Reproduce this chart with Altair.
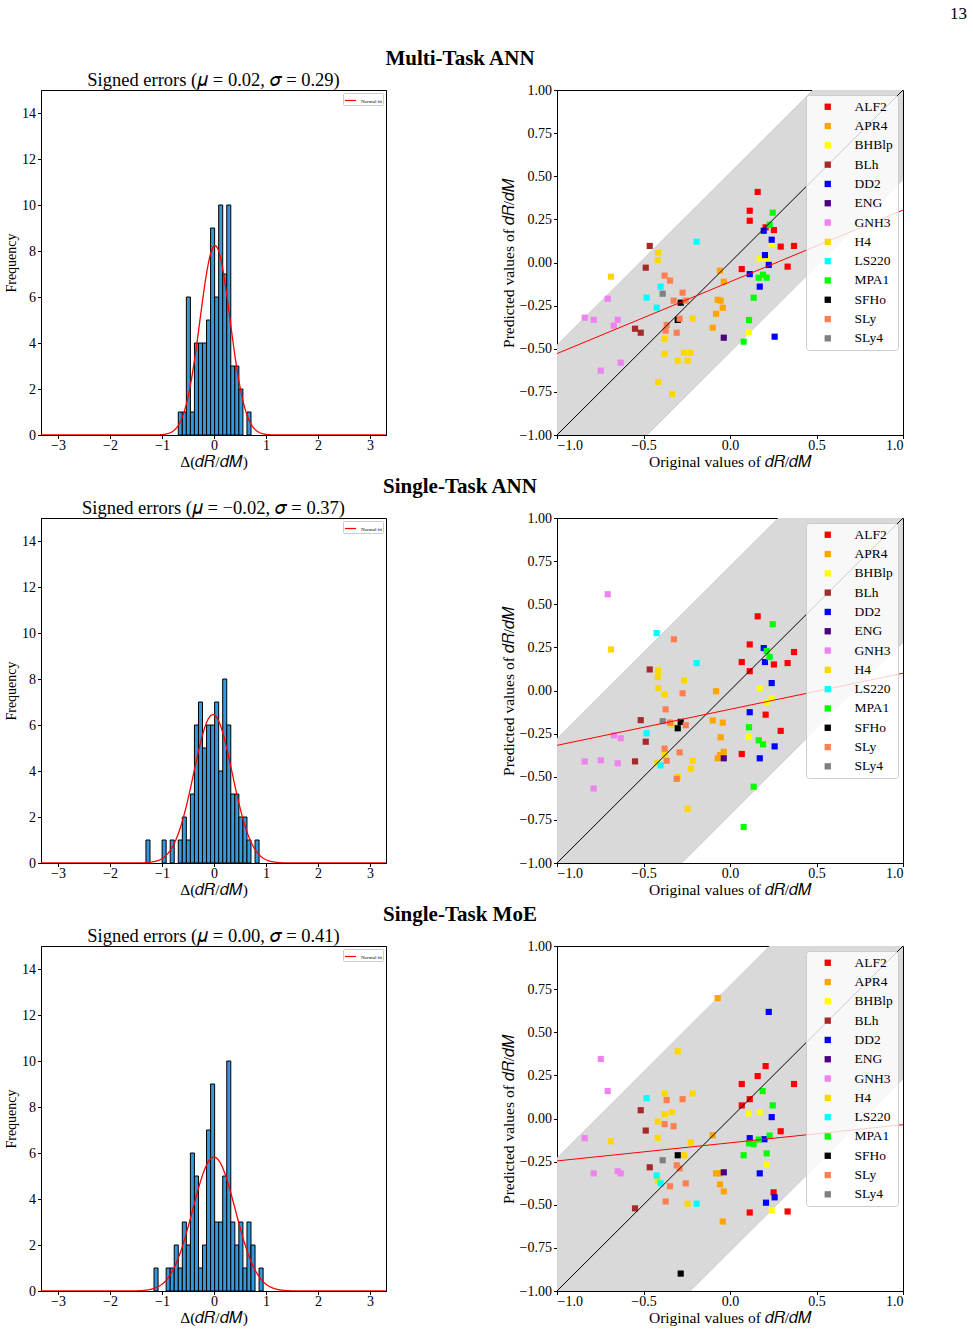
import math
import altair as alt
import pandas as pd

FONT = "Liberation Serif"

EOS = ["ALF2", "APR4", "BHBlp", "BLh", "DD2", "ENG", "GNH3", "H4",
       "LS220", "MPA1", "SFHo", "SLy", "SLy4"]
EOS_COLORS = ["red", "orange", "yellow", "brown", "blue", "indigo", "violet",
              "gold", "cyan", "lime", "black", "coral", "gray"]

# Histogram bins share one grid: edge = BIN_ORIGIN + k * BIN_WIDTH
BIN_WIDTH = 0.0777
BIN_ORIGIN = -0.687

mt_first_bin = 0
mt_counts = [1, 1, 6, 1, 4, 4, 4, 5, 9, 6, 10, 7, 10, 3, 3, 2, 0, 1]
st_first_bin = -8
st_counts = [1, 0, 0, 0, 1, 0, 1, 0, 1, 2, 1, 3, 6, 7, 5, 6, 6, 7, 4, 8,
             6, 3, 3, 2, 2, 1, 0, 1]
moe_first_bin = -6
moe_counts = [1, 0, 0, 1, 1, 2, 1, 3, 2, 6, 5, 1, 2, 7, 9, 3, 3, 5, 10, 3,
              2, 3, 1, 3, 2, 0, 1]

# Normal fit parameters (mu, sigma)
mt_fit = (0.02, 0.29)
st_fit = (-0.02, 0.37)
moe_fit = (0.00, 0.41)

# Linear fit of predicted vs original (slope, intercept) and band half-width
mt_line = (0.416, -0.112)
st_line = (0.209, -0.109)
moe_line = (0.105, -0.141)
mt_band = 0.52
st_band = 0.72
moe_band = 0.77

# (original, predicted) pairs per EoS
mt_points = {
    "ALF2": [(0.160, 0.409), (0.114, 0.300), (0.114, 0.242), (0.206, 0.204), (0.254, 0.188),
             (0.293, 0.092), (0.370, 0.096), (0.068, -0.038), (0.333, -0.024)],
    "APR4": [(-0.058, -0.047), (-0.036, -0.111), (-0.071, -0.216), (-0.054, -0.221),
             (-0.042, -0.262), (-0.081, -0.297), (-0.100, -0.378)],
    "BHBlp": [(0.241, 0.107), (0.172, 0.022), (0.212, 0.022), (0.108, -0.403)],
    "BLh": [(-0.464, 0.096), (-0.487, -0.030), (-0.549, -0.384), (-0.516, -0.407)],
    "DD2": [(0.195, 0.184), (0.241, 0.132), (0.202, 0.043), (0.224, -0.014), (0.114, -0.067),
            (0.172, -0.140), (0.258, -0.430)],
    "ENG": [(-0.036, -0.436)],
    "GNH3": [(-0.707, -0.210), (-0.840, -0.320), (-0.788, -0.332), (-0.649, -0.332),
             (-0.672, -0.366), (-0.632, -0.581), (-0.747, -0.627)],
    "H4": [(-0.688, -0.082), (-0.416, 0.057), (-0.418, 0.014), (-0.378, -0.442), (-0.378, -0.529),
           (-0.216, -0.326), (-0.266, -0.523), (-0.227, -0.523), (-0.302, -0.569),
           (-0.245, -0.569), (-0.416, -0.693), (-0.335, -0.762)],
    "LS220": [(-0.193, 0.121), (-0.401, -0.140), (-0.482, -0.204), (-0.424, -0.262)],
    "MPA1": [(0.247, 0.289), (0.229, 0.219), (0.191, -0.071), (0.166, -0.088), (0.212, -0.088),
             (0.137, -0.204), (0.110, -0.333), (0.079, -0.459)],
    "SFHo": [(-0.285, -0.233), (-0.302, -0.333)],
    "SLy": [(-0.378, -0.076), (-0.347, -0.105), (-0.274, -0.175), (-0.326, -0.221),
            (-0.256, -0.221), (-0.291, -0.326), (-0.366, -0.362), (-0.372, -0.395),
            (-0.308, -0.407)],
    "SLy4": [(-0.389, -0.181)],
}

st_points = {
    "ALF2": [(0.160, 0.430), (0.114, 0.267), (0.370, 0.223), (0.068, 0.165), (0.254, 0.151),
             (0.333, 0.159), (0.114, 0.112), (0.206, -0.140), (0.293, -0.234), (0.068, -0.368)],
    "APR4": [(-0.081, -0.004), (-0.100, -0.174), (-0.042, -0.186), (-0.054, -0.271),
             (-0.036, -0.355), (-0.058, -0.374), (-0.071, -0.393)],
    "BHBlp": [(0.172, 0.014), (0.241, -0.045), (0.212, -0.068), (0.108, -0.267)],
    "BLh": [(-0.464, 0.122), (-0.516, -0.172), (-0.487, -0.297), (-0.549, -0.411)],
    "DD2": [(0.195, 0.246), (0.202, 0.165), (0.241, 0.043), (0.114, -0.126), (0.258, -0.324),
            (0.172, -0.393)],
    "ENG": [(-0.036, -0.393)],
    "GNH3": [(-0.707, 0.558), (-0.671, -0.260), (-0.632, -0.277), (-0.840, -0.411),
             (-0.747, -0.405), (-0.649, -0.422), (-0.788, -0.568)],
    "H4": [(-0.688, 0.238), (-0.416, 0.116), (-0.418, 0.078), (-0.266, 0.058), (-0.414, 0.014),
           (-0.378, -0.023), (-0.337, -0.198), (-0.378, -0.368), (-0.420, -0.419),
           (-0.216, -0.407), (-0.227, -0.453), (-0.302, -0.500), (-0.245, -0.686)],
    "LS220": [(-0.424, 0.333), (-0.193, 0.159), (-0.482, -0.248), (-0.401, -0.434)],
    "MPA1": [(0.247, 0.384), (0.212, 0.229), (0.229, 0.194), (0.110, -0.213), (0.166, -0.289),
             (0.191, -0.312), (0.137, -0.558), (0.079, -0.791)],
    "SFHo": [(-0.285, -0.182), (-0.302, -0.219)],
    "SLy": [(-0.324, 0.297), (-0.274, -0.016), (-0.372, -0.109), (-0.347, -0.186),
            (-0.256, -0.201), (-0.378, -0.337), (-0.291, -0.359), (-0.366, -0.407),
            (-0.308, -0.512)],
    "SLy4": [(-0.389, -0.178)],
}

moe_points = {
    "ALF2": [(0.206, 0.304), (0.160, 0.246), (0.068, 0.200), (0.370, 0.200), (0.114, 0.112),
             (0.068, 0.076), (0.293, -0.074), (0.252, -0.428), (0.114, -0.545), (0.333, -0.539)],
    "APR4": [(-0.071, 0.698), (-0.100, -0.097), (-0.081, -0.318), (-0.058, -0.318),
             (-0.058, -0.382), (-0.036, -0.423), (-0.042, -0.597)],
    "BHBlp": [(0.108, 0.029), (0.172, 0.037), (0.212, -0.266), (0.241, -0.533)],
    "BLh": [(-0.516, 0.048), (-0.487, -0.070), (-0.464, -0.283), (-0.549, -0.521)],
    "DD2": [(0.224, 0.618), (0.241, 0.008), (0.114, -0.114), (0.199, -0.120), (0.172, -0.318),
            (0.258, -0.457), (0.208, -0.488)],
    "ENG": [(-0.036, -0.312)],
    "GNH3": [(-0.747, 0.345), (-0.707, 0.159), (-0.840, -0.114), (-0.788, -0.318),
             (-0.649, -0.306), (-0.632, -0.318)],
    "H4": [(-0.302, 0.390), (-0.378, 0.145), (-0.216, 0.145), (-0.378, 0.025), (-0.337, 0.037),
           (-0.418, -0.017), (-0.688, -0.132), (-0.418, -0.112), (-0.227, -0.138),
           (-0.266, -0.213), (-0.418, -0.359), (-0.245, -0.494)],
    "LS220": [(-0.482, 0.118), (-0.424, -0.330), (-0.401, -0.376), (-0.193, -0.494)],
    "MPA1": [(0.189, 0.159), (0.247, 0.076), (0.229, -0.099), (0.166, -0.122), (0.110, -0.144),
             (0.137, -0.149), (0.079, -0.213), (0.212, -0.202)],
    "SFHo": [(-0.302, -0.213), (-0.285, -0.899)],
    "SLy": [(-0.366, 0.107), (-0.274, 0.112), (-0.378, -0.033), (-0.326, -0.045),
            (-0.308, -0.271), (-0.291, -0.289), (-0.347, -0.393), (-0.256, -0.376),
            (-0.372, -0.481)],
    "SLy4": [(-0.389, -0.242)],
}

BAR_COLOR = "#3498db"
HIST_DOMAIN = [-3.327, 3.308]
PANEL = 345
DRDM = "\U0001D451\U0001D445/\U0001D451\U0001D440"   # italic dR/dM


def fmt(v):
    s = f"{v:.2f}"
    return s.replace("-", "\u2212")


def histogram(first_bin, counts, fit):
    mu, sigma = fit
    lo = [BIN_ORIGIN + (first_bin + i) * BIN_WIDTH for i in range(len(counts))]
    df = pd.DataFrame({"lo": lo, "count": counts})
    df["hi"] = df["lo"] + BIN_WIDTH
    df["base"] = 0
    df = df[df["count"] > 0]

    xscale = alt.Scale(domain=HIST_DOMAIN, nice=False, zero=False)
    yscale = alt.Scale(domain=[0, 15], nice=False)

    bars = alt.Chart(df).mark_rect(
        color=BAR_COLOR, stroke="black", strokeWidth=1
    ).encode(
        x=alt.X("lo:Q", scale=xscale,
                axis=alt.Axis(values=[-3, -2, -1, 0, 1, 2, 3], format="d",
                              title="\u0394(" + DRDM + ")")),
        x2="hi:Q",
        y=alt.Y("count:Q", scale=yscale,
                axis=alt.Axis(values=list(range(0, 15, 2)), format="d",
                              title="Frequency", titleFontSize=14)),
        y2="base:Q",
    )

    n = sum(counts)
    peak = n * BIN_WIDTH / (sigma * math.sqrt(2 * math.pi))
    curve = alt.Chart(
        alt.sequence(HIST_DOMAIN[0], HIST_DOMAIN[1], 0.01, as_="xv")
    ).transform_calculate(
        yv=f"{peak} * exp(-0.5 * pow((datum.xv - ({mu})) / {sigma}, 2))",
        series="'Normal fit'",
    ).mark_line(strokeWidth=1.3, clip=True).encode(
        x=alt.X("xv:Q", scale=xscale),
        y=alt.Y("yv:Q", scale=yscale),
        stroke=alt.Stroke(
            "series:N", scale=alt.Scale(range=["red"]),
            legend=alt.Legend(
                title=None, orient="top-right", offset=3, padding=1,
                labelFontSize=5, labelFont=FONT, labelOffset=4,
                symbolType="stroke", symbolSize=120, symbolStrokeWidth=1.2,
                strokeColor="#cccccc", fillColor="white", cornerRadius=1,
            ),
        ),
    )
    title = alt.TitleParams(
        f"Signed errors (\U0001D707 = {fmt(mu)}, \U0001D70E = {fmt(sigma)})",
        fontSize=18.5, font=FONT, fontWeight="normal", offset=1,
    )
    return alt.layer(bars, curve).properties(width=PANEL, height=PANEL, title=title)


def scatter(points, line, band):
    slope, intercept = line
    rows = []
    for name in EOS:
        for x, y in points.get(name, []):
            rows.append({"eos": name, "orig": x, "pred": y})
    df = pd.DataFrame(rows)

    sx = alt.Scale(domain=[-1, 1], nice=False)
    sy = alt.Scale(domain=[-1, 1], nice=False)
    xaxis = alt.Axis(values=[-1, -0.5, 0, 0.5, 1], format=".1f",
                     title="Original values of " + DRDM)
    yaxis = alt.Axis(values=[-1, -0.75, -0.5, -0.25, 0, 0.25, 0.5, 0.75, 1], format=".2f",
                     title="Predicted values of " + DRDM)

    ends = pd.DataFrame({"x": [-1.0, 1.0]})
    shaded = alt.Chart(ends).transform_calculate(
        lo=f"datum.x - {band}", hi=f"datum.x + {band}"
    ).mark_area(color="#d9d9d9", stroke="#cdcdcd", strokeWidth=1, clip=True).encode(
        x=alt.X("x:Q", scale=sx, axis=xaxis),
        y=alt.Y("lo:Q", scale=sy, axis=yaxis),
        y2="hi:Q",
    )
    dots = alt.Chart(df).mark_point(
        shape="square", filled=True, size=38, opacity=1
    ).encode(
        x=alt.X("orig:Q", scale=sx),
        y=alt.Y("pred:Q", scale=sy),
        color=alt.Color(
            "eos:N", scale=alt.Scale(domain=EOS, range=EOS_COLORS),
            legend=alt.Legend(
                title=None, orient="top-right", offset=5, padding=5,
                labelFontSize=13.5, labelFont=FONT, labelOffset=20,
                symbolType="square", symbolSize=40, symbolOffset=10,
                rowPadding=4.3, strokeColor="#cccccc",
                fillColor="rgba(255,255,255,0.8)", cornerRadius=3,
            ),
        ),
    )
    diag = alt.Chart(ends).transform_calculate(d="datum.x").mark_line(
        color="black", strokeWidth=1, clip=True
    ).encode(x=alt.X("x:Q", scale=sx), y=alt.Y("d:Q", scale=sy))
    fitline = alt.Chart(ends).transform_calculate(
        f=f"{slope} * datum.x + ({intercept})"
    ).mark_line(color="red", strokeWidth=1, clip=True).encode(
        x=alt.X("x:Q", scale=sx), y=alt.Y("f:Q", scale=sy)
    )
    return alt.layer(shaded, dots, diag, fitline).properties(width=PANEL + 1, height=PANEL)


def row(name, hist, sc):
    return alt.hconcat(hist, sc, spacing=113).properties(
        title=alt.TitleParams(name, fontSize=21, font=FONT, fontWeight="bold",
                              anchor="middle", offset=1, dx=6)
    ).resolve_scale(color="independent", stroke="independent")


chart = alt.vconcat(
    row("Multi-Task ANN", histogram(mt_first_bin, mt_counts, mt_fit),
        scatter(mt_points, mt_line, mt_band)),
    row("Single-Task ANN", histogram(st_first_bin, st_counts, st_fit),
        scatter(st_points, st_line, st_band)),
    row("Single-Task MoE", histogram(moe_first_bin, moe_counts, moe_fit),
        scatter(moe_points, moe_line, moe_band)),
    spacing=5,
).properties(
    title=alt.TitleParams("13", anchor="end", fontSize=17, font=FONT,
                          fontWeight="normal", dx=63, offset=25),
    padding={"left": 4, "top": 5, "right": 5, "bottom": 2},
).configure_view(
    stroke="black", strokeWidth=1
).configure_axis(
    grid=False, domainColor="black", tickColor="black", tickSize=3.5,
    labelFont=FONT, labelFontSize=14, labelColor="black",
    titleFont=FONT, titleFontSize=15.5, titleFontWeight="normal", titleColor="black",
).configure_axisX(
    labelPadding=0, titlePadding=2
).configure_axisY(
    labelPadding=2, titlePadding=3
).configure_title(color="black")

chart.save("out.html", embed_options={"renderer": "svg", "actions": False})
